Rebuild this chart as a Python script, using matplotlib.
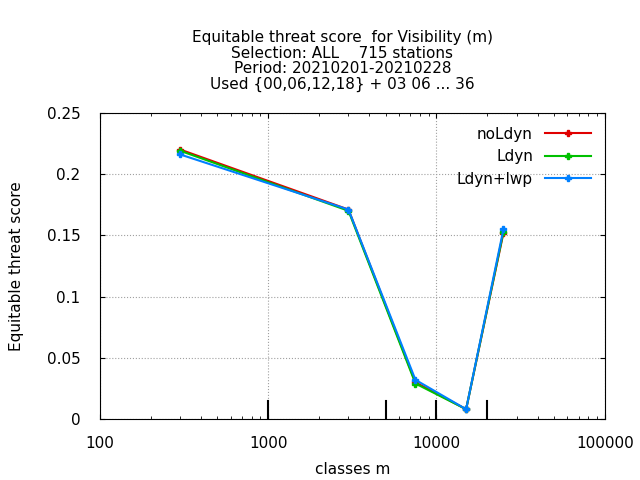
import matplotlib
matplotlib.use('Agg')
import matplotlib.pyplot as plt

classes = [300, 3000, 7500, 15000, 25000]
noldyn = [0.220, 0.171, 0.030, 0.008, 0.152]
ldyn = [0.219, 0.170, 0.029, 0.008, 0.153]
ldyn_lwp = [0.216, 0.171, 0.032, 0.008, 0.155]
bounds = [1000, 5000, 10000, 20000]

fig = plt.figure(figsize=(6.4, 4.8), dpi=100)
ax = fig.add_axes([0.156, 0.127, 0.789, 0.638])

ax.plot(classes, noldyn, color='#e00000', marker='P', ms=5, lw=1.5, label='noLdyn')
ax.plot(classes, ldyn, color='#00c000', marker='P', ms=5, lw=1.5, label='Ldyn')
ax.plot(classes, ldyn_lwp, color='#0080ff', marker='P', ms=5, lw=1.5, label='Ldyn+lwp')

ax.set_xscale('log')
ax.set_xlim(100, 100000)
ax.set_ylim(0, 0.25)
ax.set_xticks([100, 1000, 10000, 100000])
ax.set_xticklabels(['100', '1000', '10000', '100000'])
ax.set_yticks([0, 0.05, 0.1, 0.15, 0.2, 0.25])
ax.set_yticklabels(['0', '0.05', '0.1', '0.15', '0.2', '0.25'])
ax.tick_params(direction='in', labelsize=11, top=True, right=True, which='both')
ax.tick_params(axis='x', pad=12)
ax.tick_params(axis='y', pad=14)
ax.grid(True, color='#a0a0a0', ls=':', lw=0.8)
for b in bounds:
    ax.axvline(b, ymin=0, ymax=0.06, color='black', lw=1.5)

ax.set_xlabel('classes m', fontsize=11, labelpad=8)
ax.set_ylabel('Equitable threat score', fontsize=11, labelpad=16)
fig.text(0.535, 0.808,
         'Equitable threat score  for Visibility (m)\nSelection: ALL    715 stations\n'
         'Period: 20210201-20210228\nUsed {00,06,12,18} + 03 06 ... 36',
         ha='center', va='bottom', fontsize=11, linespacing=1.05)

leg = ax.legend(loc='upper right', frameon=False, fontsize=11, markerfirst=False,
                handlelength=3)

fig.savefig('out.png')
